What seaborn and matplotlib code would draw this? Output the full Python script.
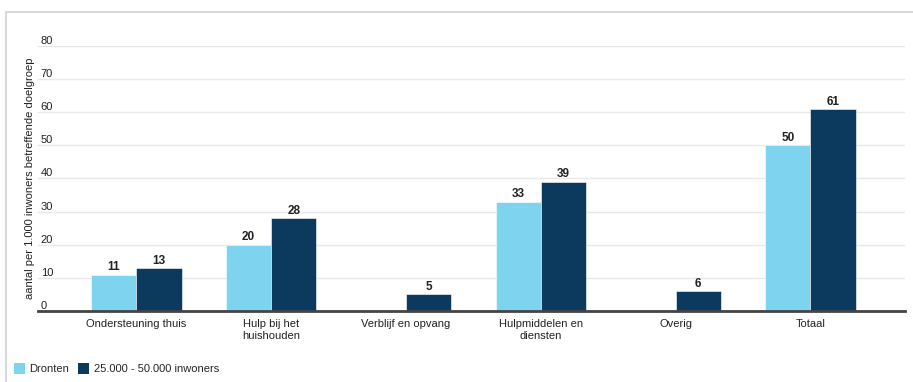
import numpy as np
import pandas as pd
import matplotlib
matplotlib.use("Agg")
import matplotlib.pyplot as plt
from matplotlib.patches import Rectangle
import seaborn as sns

categories = ["Ondersteuning thuis", "Hulp bij het\nhuishouden", "Verblijf en opvang",
              "Hulpmiddelen en\ndiensten", "Overig", "Totaal"]
dronten = [11, 20, np.nan, 33, np.nan, 50]
vergelijk = [13, 28, 5, 39, 6, 61]
series = ["Dronten", "25.000 - 50.000 inwoners"]
colors = ["#7ed3ee", "#0b3a5e"]
yticks = [0, 10, 20, 30, 40, 50, 60, 70, 80]

df = pd.DataFrame({
    "categorie": categories * 2,
    "waarde": dronten + vergelijk,
    "groep": [series[0]] * len(categories) + [series[1]] * len(categories),
})

sns.set_style("white")
plt.rcParams["font.family"] = ["Liberation Sans", "DejaVu Sans"]
plt.rcParams["font.size"] = 8

fig = plt.figure(figsize=(9.13, 3.82), dpi=100)
ax = fig.add_axes([0.0416, 0.186, 0.9494, 0.6936])

# light grey frame round the whole chart (left + top only visible)
fig.add_artist(Rectangle((6 / 913, -0.05), 1.1, (382 - 12) / 382 + 0.05,
                         transform=fig.transFigure, fill=False,
                         edgecolor="#d9d9d9", linewidth=1.5))

sns.barplot(data=df, x="categorie", y="waarde", hue="groep", hue_order=series,
            order=categories, palette=colors, saturation=1, width=0.67, ax=ax,
            edgecolor="#ffffff", linewidth=0.4, legend=True)

for cont in ax.containers:
    labels = ["" if np.isnan(v) else f"{v:.0f}" for v in cont.datavalues]
    ax.bar_label(cont, labels=labels, padding=1, fontsize=8.5,
                 fontweight="bold", color="#222222")

ax.set_ylim(0, 80)
ax.set_xlim(-0.73, 5.7)
ax.set_yticks(yticks)
ax.yaxis.grid(True, color="#e8e8e8", linewidth=1)
ax.set_axisbelow(True)
for s in ["top", "right", "left"]:
    ax.spines[s].set_visible(False)
ax.spines["bottom"].set_color("#444444")
ax.spines["bottom"].set_linewidth(2)

ax.tick_params(axis="y", length=0, pad=-2, labelsize=8, labelcolor="#222222")
for lab in ax.get_yticklabels():
    lab.set_horizontalalignment("left")
    lab.set_verticalalignment("bottom")
ax.tick_params(axis="x", length=0, pad=6, labelsize=8, labelcolor="#222222")

ax.set_xlabel("")
ax.set_ylabel("aantal per 1.000 inwoners betreffende doelgroep", fontsize=8,
              color="#222222")
ax.yaxis.set_label_coords(-0.004, 0.5)

ax.get_legend().remove()
handles = [Rectangle((0, 0), 1, 1, facecolor=c, edgecolor="none") for c in colors]
fig.legend(handles, series, loc="lower left", bbox_to_anchor=(6 / 913, 0.0),
           frameon=False, ncol=2, fontsize=8, handlelength=1.0, handleheight=1.2,
           handletextpad=0.4, columnspacing=0.8, borderaxespad=0.3)

fig.savefig("out.png", dpi=100)
